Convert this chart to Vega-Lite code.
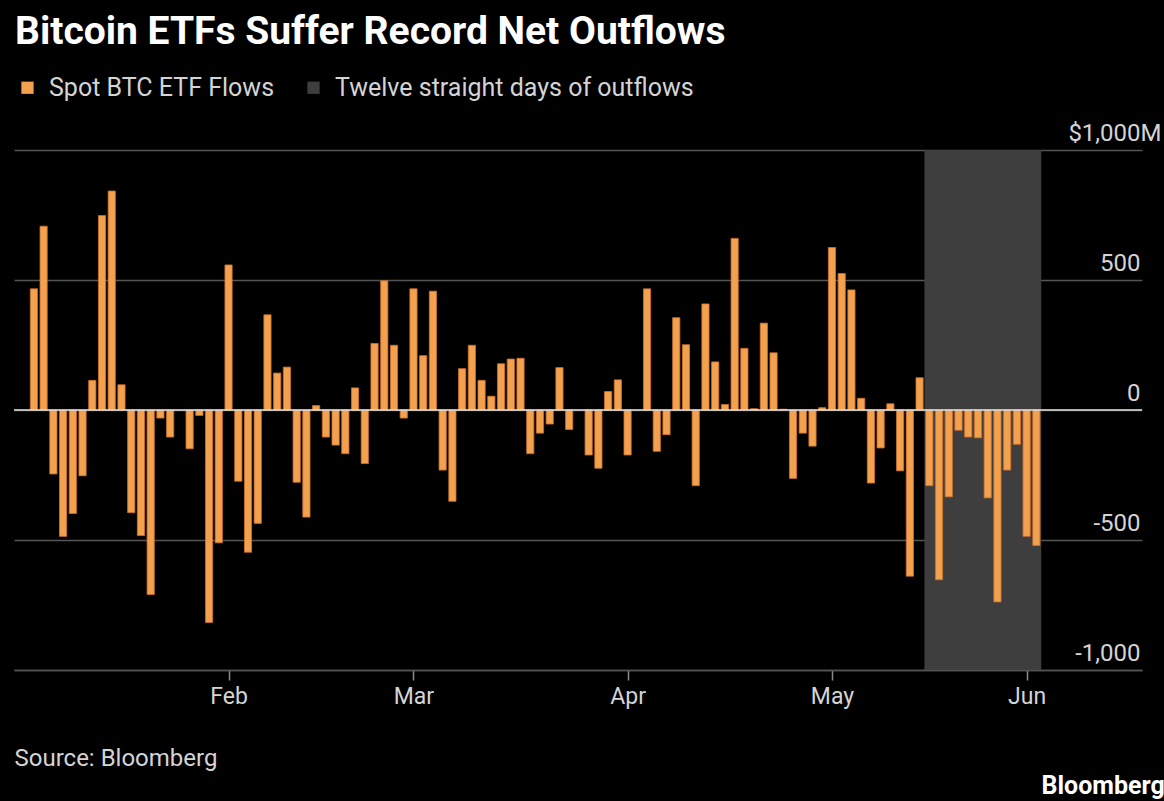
{
  "$schema": "https://vega.github.io/schema/vega-lite/v6.json",
  "width": 1128,
  "height": 520,
  "autosize": {"type": "none"},
  "padding": {"left": 14, "top": 150, "right": 22, "bottom": 131},
  "background": "#000000",
  "title": {
    "text": "Bitcoin ETFs Suffer Record Net Outflows",
    "anchor": "start",
    "frame": "group",
    "font": "Roboto",
    "fontSize": 39,
    "fontWeight": "bold",
    "color": "#ffffff",
    "baseline": "alphabetic",
    "offset": -8,
    "dx": 1
  },
  "config": {
    "view": {"stroke": null},
    "legend": {
      "orient": "none",
      "legendX": 1,
      "legendY": -75,
      "direction": "horizontal",
      "padding": 0,
      "symbolType": "square",
      "symbolSize": 150,
      "symbolStrokeWidth": 0,
      "labelFont": "Roboto",
      "labelFontSize": 25,
      "labelColor": "#d4d4d4",
      "labelOffset": 9,
      "labelLimit": 0,
      "columnPadding": 26
    }
  },
  "datasets": {
    "flows": [
      {"day": 1, "flow": 466}, {"day": 2, "flow": 707}, {"day": 3, "flow": -246}, {"day": 4, "flow": -486},
      {"day": 5, "flow": -398}, {"day": 6, "flow": -253}, {"day": 7, "flow": 114}, {"day": 8, "flow": 748},
      {"day": 9, "flow": 842}, {"day": 10, "flow": 97}, {"day": 11, "flow": -395}, {"day": 12, "flow": -483},
      {"day": 13, "flow": -710}, {"day": 14, "flow": -31}, {"day": 15, "flow": -104},
      {"day": 17, "flow": -149}, {"day": 18, "flow": -21}, {"day": 19, "flow": -817}, {"day": 20, "flow": -511},
      {"day": 21, "flow": 558}, {"day": 22, "flow": -274}, {"day": 23, "flow": -547}, {"day": 24, "flow": -436},
      {"day": 25, "flow": 366}, {"day": 26, "flow": 142}, {"day": 27, "flow": 165}, {"day": 28, "flow": -278},
      {"day": 29, "flow": -412}, {"day": 30, "flow": 17}, {"day": 31, "flow": -104}, {"day": 32, "flow": -135},
      {"day": 33, "flow": -168}, {"day": 34, "flow": 85}, {"day": 35, "flow": -206}, {"day": 36, "flow": 256},
      {"day": 37, "flow": 497}, {"day": 38, "flow": 249}, {"day": 39, "flow": -31}, {"day": 40, "flow": 466},
      {"day": 41, "flow": 209}, {"day": 42, "flow": 457}, {"day": 43, "flow": -231}, {"day": 44, "flow": -351},
      {"day": 45, "flow": 159}, {"day": 46, "flow": 249}, {"day": 47, "flow": 114}, {"day": 48, "flow": 53},
      {"day": 49, "flow": 178}, {"day": 50, "flow": 196}, {"day": 51, "flow": 199}, {"day": 52, "flow": -168},
      {"day": 53, "flow": -89}, {"day": 54, "flow": -54}, {"day": 55, "flow": 163}, {"day": 56, "flow": -75},
      {"day": 58, "flow": -173}, {"day": 59, "flow": -224}, {"day": 60, "flow": 71}, {"day": 61, "flow": 116},
      {"day": 62, "flow": -173}, {"day": 64, "flow": 466}, {"day": 65, "flow": -159}, {"day": 66, "flow": -95},
      {"day": 67, "flow": 355}, {"day": 68, "flow": 251}, {"day": 69, "flow": -291}, {"day": 70, "flow": 408},
      {"day": 71, "flow": 185}, {"day": 72, "flow": 21}, {"day": 73, "flow": 660}, {"day": 74, "flow": 237},
      {"day": 75, "flow": 5}, {"day": 76, "flow": 334}, {"day": 77, "flow": 220}, {"day": 78, "flow": 3},
      {"day": 79, "flow": -263}, {"day": 80, "flow": -89}, {"day": 81, "flow": -139}, {"day": 82, "flow": 9},
      {"day": 83, "flow": 625}, {"day": 84, "flow": 525}, {"day": 85, "flow": 462}, {"day": 86, "flow": 45},
      {"day": 87, "flow": -281}, {"day": 88, "flow": -146}, {"day": 89, "flow": 24}, {"day": 90, "flow": -234},
      {"day": 91, "flow": -639}, {"day": 92, "flow": 124}, {"day": 93, "flow": -291}, {"day": 94, "flow": -653},
      {"day": 95, "flow": -334}, {"day": 96, "flow": -78}, {"day": 97, "flow": -104}, {"day": 98, "flow": -107},
      {"day": 99, "flow": -338}, {"day": 100, "flow": -738}, {"day": 101, "flow": -231}, {"day": 102, "flow": -132},
      {"day": 103, "flow": -486}, {"day": 104, "flow": -521}
    ],
    "streak": [
      {"start": 92.5, "end": 104.5, "label": "Twelve straight days of outflows"}
    ],
    "zero": [{"flow": 0}]
  },
  "layer": [
    {
      "data": {"name": "streak"},
      "mark": {"type": "rect"},
      "encoding": {
        "x": {"field": "start", "type": "quantitative", "title": "Source: Bloomberg"},
        "x2": {"field": "end"},
        "y": {"datum": 1000, "type": "quantitative", "title": "Bloomberg"},
        "y2": {"datum": -1000},
        "color": {"datum": "Twelve straight days of outflows"}
      }
    },
    {
      "data": {"name": "flows"},
      "mark": {"type": "bar", "width": 7.2, "stroke": "#cf6f2e", "strokeWidth": 0.8},
      "encoding": {
        "x": {
          "field": "day",
          "type": "quantitative",
          "scale": {"domain": [-0.53, 114.34], "nice": false, "zero": false},
          "axis": {
            "orient": "bottom",
            "values": [21, 40, 62, 83, 103],
            "labelExpr": "datum.value == 21 ? 'Feb' : datum.value == 40 ? 'Mar' : datum.value == 62 ? 'Apr' : datum.value == 83 ? 'May' : 'Jun'",
            "grid": false,
            "domain": true,
            "domainColor": "#555555",
            "domainWidth": 1.5,
            "ticks": true,
            "tickColor": "#8a8a8a",
            "tickSize": 10,
            "tickWidth": 1.5,
            "labelFont": "Roboto",
            "labelFontSize": 23,
            "labelColor": "#d4d4d4",
            "labelPadding": 5,
            "title": "Source: Bloomberg",
            "titleFont": "Roboto",
            "titleFontSize": 24,
            "titleFontWeight": "normal",
            "titleColor": "#d4d4d4",
            "titleAlign": "left",
            "titleAnchor": "start",
            "titleBaseline": "alphabetic",
            "titleX": 0,
            "titleY": 95
          }
        },
        "y": {
          "field": "flow",
          "type": "quantitative",
          "scale": {"domain": [-1000, 1000], "nice": false},
          "axis": {
            "orient": "right",
            "values": [-1000, -500, 0, 500, 1000],
            "grid": true,
            "gridColor": "#555555",
            "gridWidth": 1.5,
            "domain": false,
            "ticks": false,
            "tickSize": 0,
            "labelAlign": "right",
            "labelBaseline": "alphabetic",
            "labelPadding": {"condition": {"test": "datum.value == 1000", "value": 19}, "value": -2},
            "labelOffset": -10,
            "labelFont": "Roboto",
            "labelFontSize": 24,
            "labelColor": "#d4d4d4",
            "labelExpr": "datum.value == 1000 ? '$1,000M' : datum.value == -1000 ? '-1,000' : datum.value + ''",
            "title": "Bloomberg",
            "titleAngle": 0,
            "titleAlign": "left",
            "titleBaseline": "alphabetic",
            "titleX": -101,
            "titleY": 643,
            "titleFont": "Roboto",
            "titleFontSize": 25,
            "titleFontWeight": "bold",
            "titleColor": "#ffffff"
          }
        },
        "color": {
          "datum": "Spot BTC ETF Flows",
          "scale": {
            "domain": ["Spot BTC ETF Flows", "Twelve straight days of outflows"],
            "range": ["#f2a24e", "#3e3e3e"]
          },
          "legend": {"title": null}
        }
      }
    },
    {
      "data": {"name": "zero"},
      "mark": {"type": "rule", "color": "#e4e4e4", "strokeWidth": 1.5},
      "encoding": {
        "y": {"field": "flow", "type": "quantitative", "title": "Bloomberg"}
      }
    }
  ]
}
